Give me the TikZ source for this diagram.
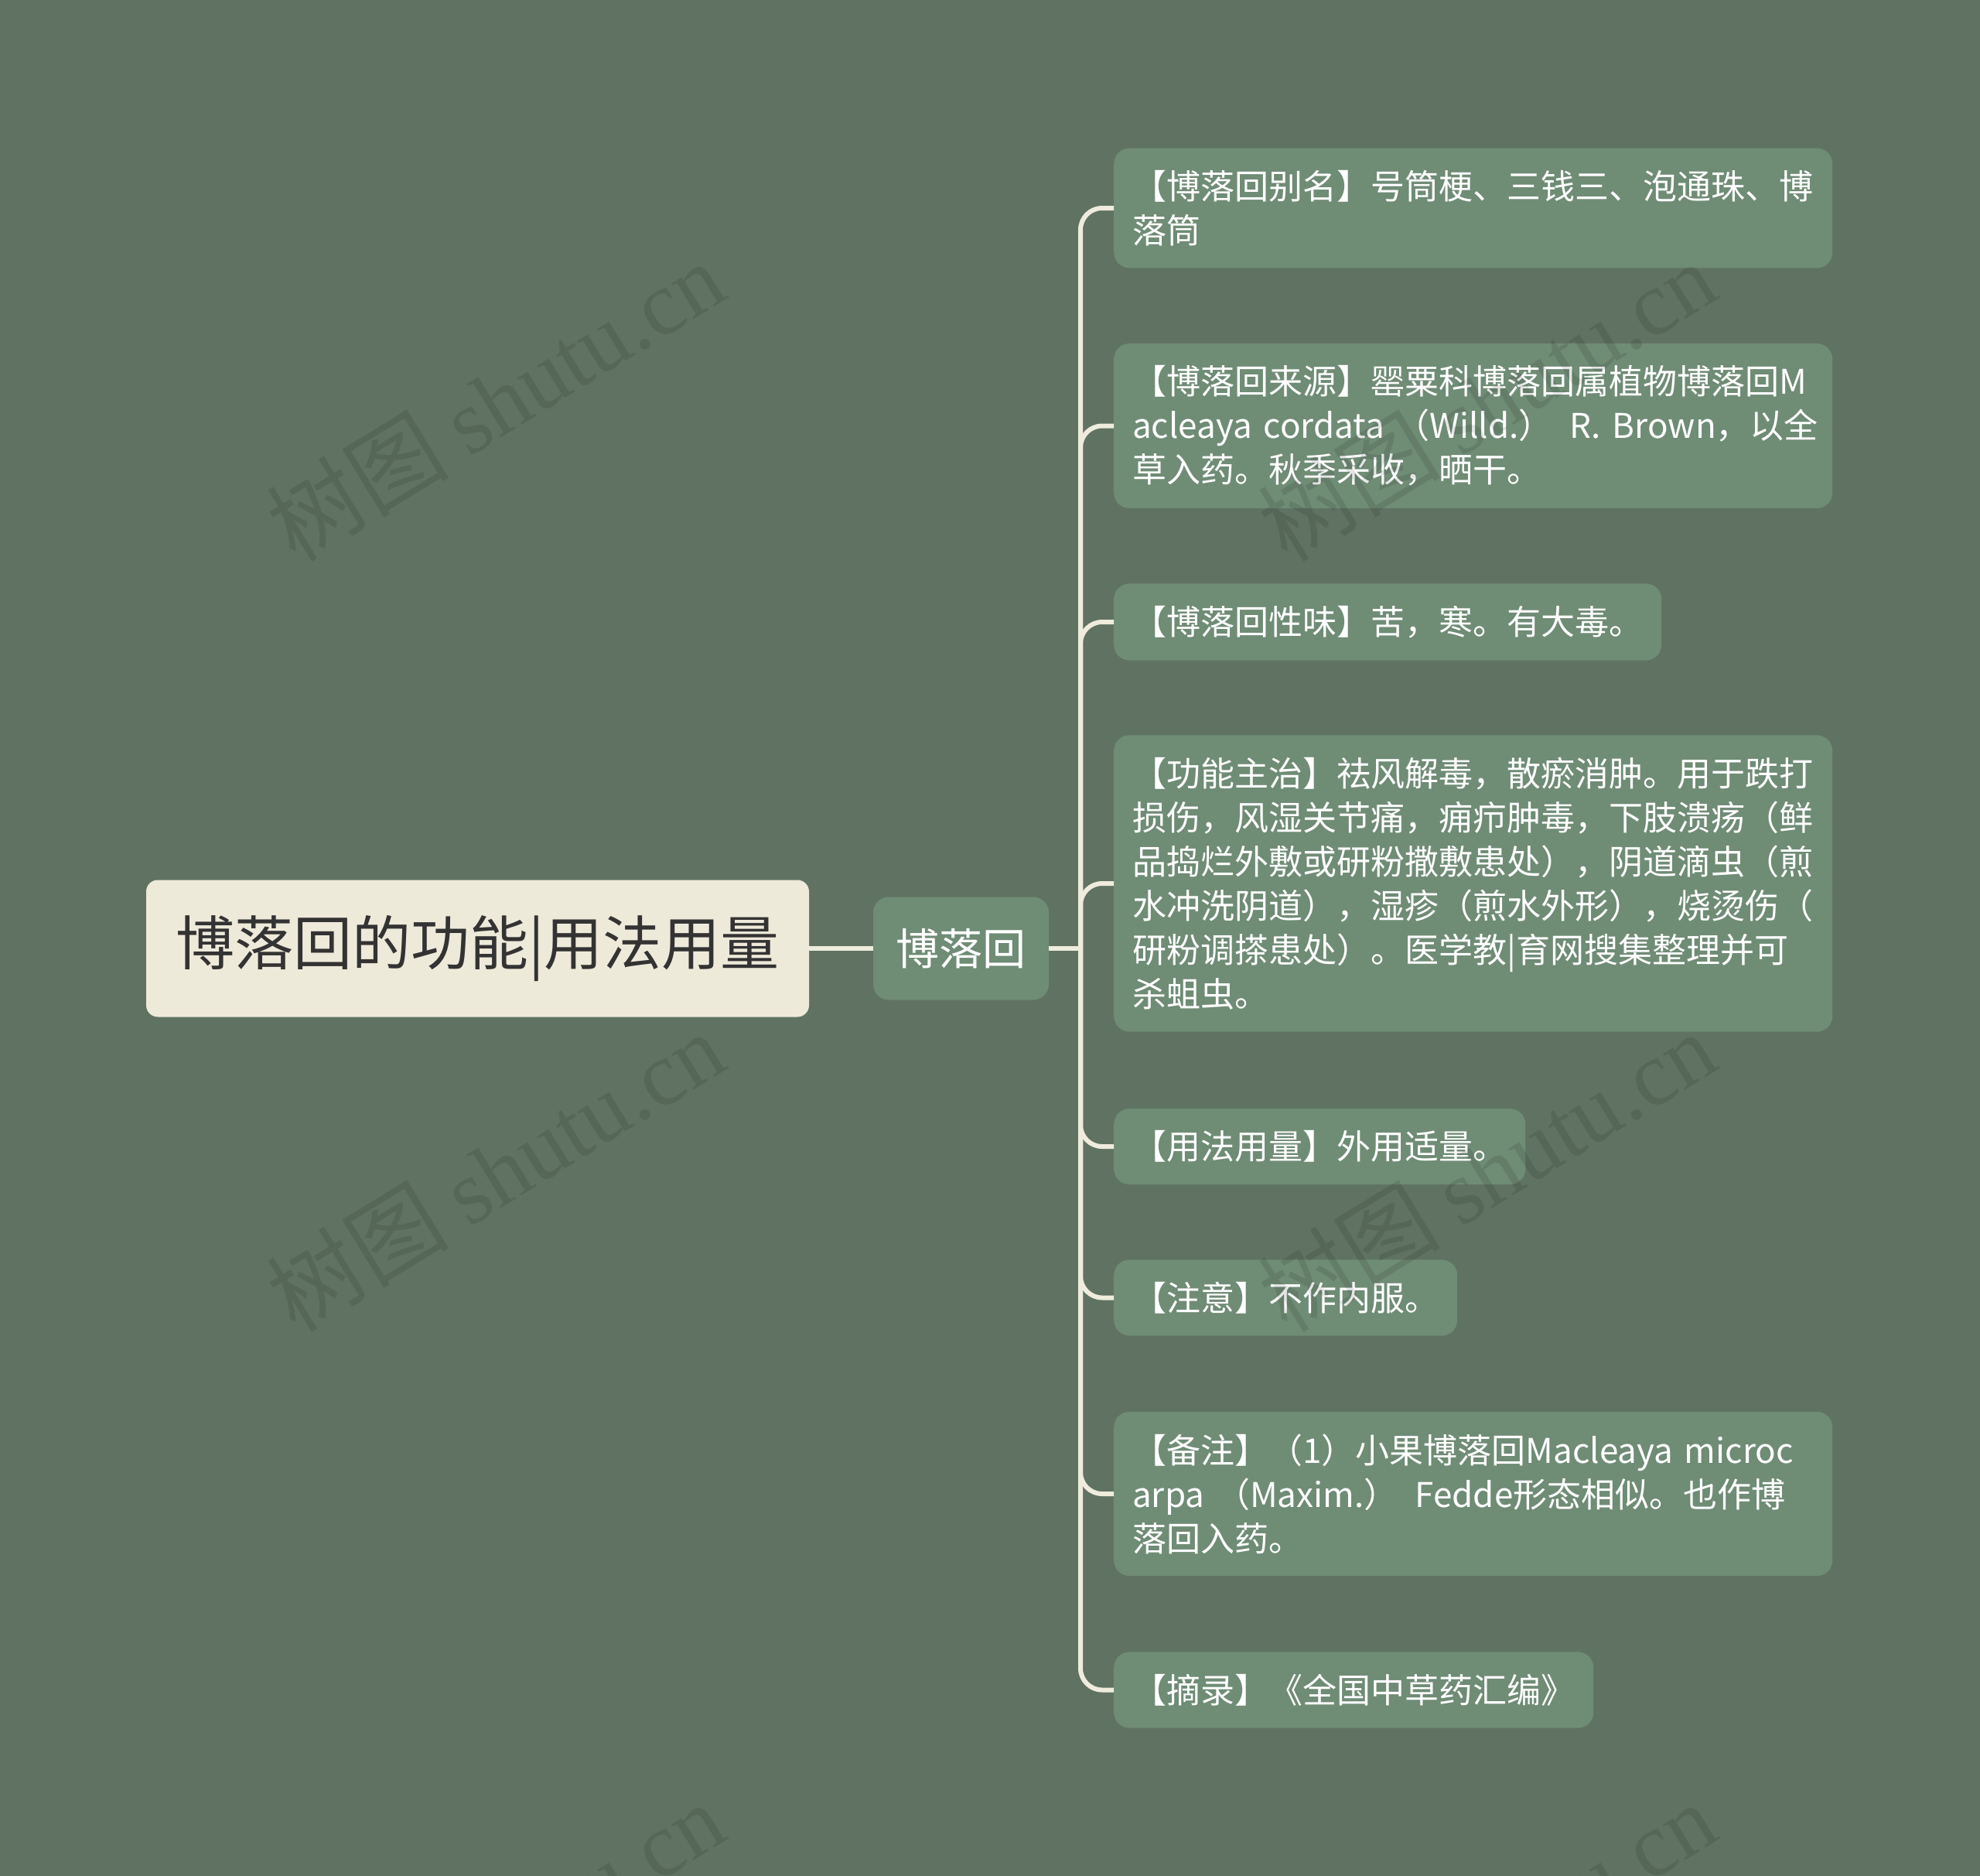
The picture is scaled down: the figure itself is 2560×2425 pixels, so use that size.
\documentclass[tikz,border=0pt]{standalone}
\usepackage{fontspec}
\setmainfont{Noto Sans CJK SC}
\newfontfamily\wmfont{Liberation Serif}
\definecolor{bgc}{RGB}{96,115,98}
\definecolor{leafc}{RGB}{111,140,117}
\definecolor{rootc}{RGB}{238,234,218}
\definecolor{linec}{RGB}{239,235,221}
\definecolor{roottext}{RGB}{51,51,51}
\tikzset{
  leaf/.style={fill=leafc, rounded corners=20pt, text=white,
    font=\fontsize{44}{57}\selectfont, align=left,
    inner xsep=24pt, inner ysep=28.5pt, anchor=west},
  wideleaf/.style={leaf, text width=881pt},
  conn/.style={draw=linec, line width=6pt},
  wm/.style={text=black, text opacity=0.1, rotate=31.5,
    font=\fontsize{118}{124}\selectfont, inner sep=0pt}
}
\begin{document}
\begin{tikzpicture}[x=1pt,y=-1pt]
\fill[bgc] (0,0) rectangle (2560,2425);
\useasboundingbox (0,0) rectangle (2560,2425);

\node[fill=rootc, rounded corners=15pt, text=roottext,
  font=\fontsize{76}{90}\selectfont, minimum width=857pt,
  minimum height=177pt, inner sep=0pt] (root) at (617.5,1226) {博落回的功能|用法用量};
\node[fill=leafc, rounded corners=20pt, text=white,
  font=\fontsize{56}{66}\selectfont, minimum width=227pt,
  minimum height=133pt, inner sep=0pt] (hub) at (1242.5,1226) {博落回};
\coordinate (trunk) at (1397,1226);

\node[wideleaf] (l1) at (1440,269) {【博落回别名】号筒梗、三钱三、泡通珠、博\\落筒};
\node[wideleaf] (l2) at (1440,550.5) {【博落回来源】罂粟科博落回属植物博落回M\\\mbox{acleaya cordata （Willd.） R. Brown，以全}\\草入药。秋季采收，晒干。};
\node[leaf] (l3) at (1440,804) {【博落回性味】苦，寒。有大毒。};
\node[wideleaf] (l4) at (1440,1142) {【功能主治】祛风解毒，散瘀消肿。用于跌打\\损伤，风湿关节痛，痈疖肿毒，下肢溃疡（鲜\\品捣烂外敷或研粉撒敷患处），阴道滴虫（煎\\水冲洗阴道），湿疹（煎水外形），烧烫伤（\\研粉调搽患处）。医学教|育网搜集整理并可\\杀蛆虫。};
\node[leaf] (l5) at (1440,1482) {【用法用量】外用适量。};
\node[leaf] (l6) at (1440,1677.5) {【注意】不作内服。};
\node[wideleaf] (l7) at (1440,1931) {\mbox{【备注】（1）小果博落回Macleaya microc}\\\mbox{arpa （Maxim.） Fedde形态相似。也作博}\\落回入药。};
\node[leaf] (l8) at (1440,2184.5) {【摘录】《全国中草药汇编》};

\draw[conn] (root.east) -- (hub.west);
\draw[conn] (hub.east) -- (trunk);
\foreach \n in {l1,l2,l3,l4,l5,l6,l7,l8}
  \draw[conn, rounded corners=28pt] (trunk) |- (\n.west);

\node[wm] (wm1) at (640,518) {树图 {\wmfont shutu.cn}};
\node[wm] (wm2) at (1922,518) {树图 {\wmfont shutu.cn}};
\node[wm] (wm3) at (640,1514) {树图 {\wmfont shutu.cn}};
\node[wm] (wm4) at (1922,1514) {树图 {\wmfont shutu.cn}};
\node[wm] (wm5) at (640,2510) {树图 {\wmfont shutu.cn}};
\node[wm] (wm6) at (1922,2510) {树图 {\wmfont shutu.cn}};
\end{tikzpicture}
\end{document}
